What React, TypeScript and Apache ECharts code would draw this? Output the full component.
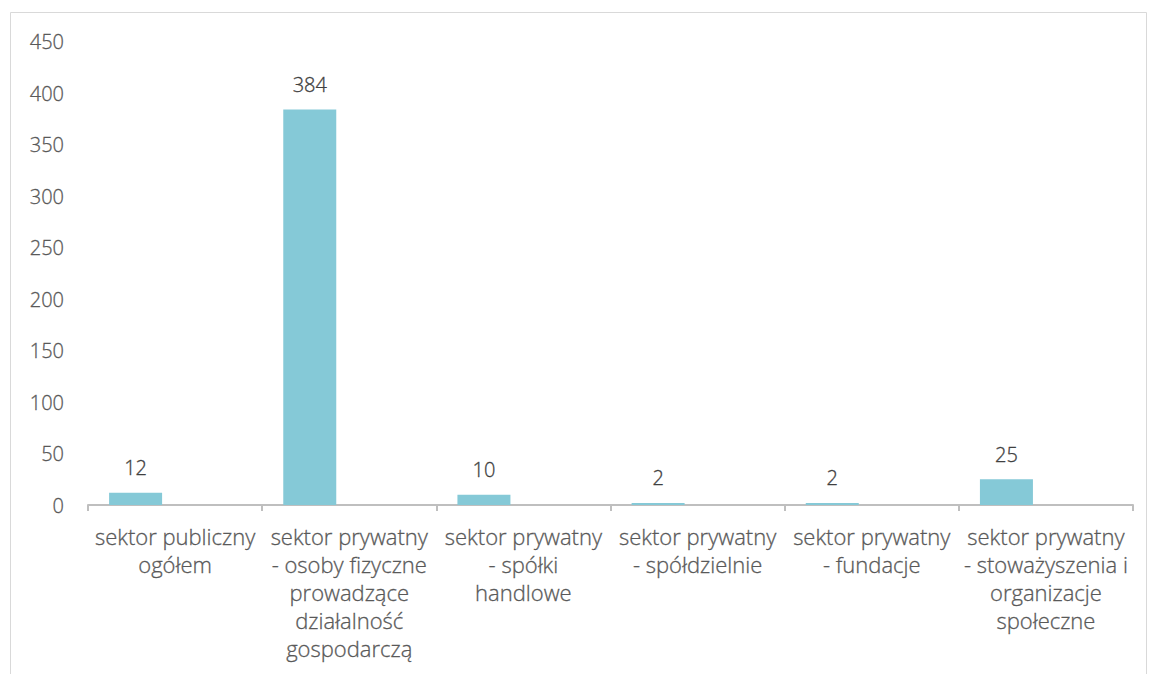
import React, { useEffect, useRef } from "react";
import * as echarts from "echarts";

const categories = [
  "sektor publiczny\nogółem",
  "sektor prywatny\n- osoby fizyczne\nprowadzące\ndziałalność\ngospodarczą",
  "sektor prywatny\n- spółki\nhandlowe",
  "sektor prywatny\n- spółdzielnie",
  "sektor prywatny\n- fundacje",
  "sektor prywatny\n- stoważyszenia i\norganizacje\nspołeczne",
];
const values = [12, 384, 10, 2, 2, 25];
const emptySeries: (number | null)[] = [null, null, null, null, null, null];
const yTicks = { min: 0, max: 450, interval: 50 };

export default function App() {
  const ref = useRef<HTMLDivElement>(null);
  useEffect(() => {
    document.body.style.margin = "0";
    const chart = echarts.init(ref.current!, null, { renderer: "svg" });
    const font = "'Open Sans', sans-serif";
    chart.setOption({
      animation: false,
      backgroundColor: "#ffffff",
      textStyle: { fontFamily: font },
      graphic: [
        {
          type: "rect",
          shape: { x: 10.5, y: 12.5, width: 1136, height: 700 },
          style: { fill: "none", stroke: "#d9d9d9", lineWidth: 1 },
          silent: true,
        },
      ],
      grid: { left: 88, right: 17, top: 41.5, bottom: 169 },
      xAxis: {
        type: "category",
        data: categories,
        boundaryGap: true,
        axisLine: { show: true, lineStyle: { color: "#bfbfbf", width: 2 } },
        axisTick: { show: true, length: 6, alignWithLabel: false, lineStyle: { color: "#bfbfbf", width: 2 } },
        axisLabel: {
          interval: 0,
          color: "#595959",
          fontSize: 22,
          fontWeight: 300,
          lineHeight: 28,
          margin: 17,
          fontFamily: font,
          textBorderColor: "#595959",
          textBorderWidth: 0.3,
        },
      },
      yAxis: {
        type: "value",
        min: yTicks.min,
        max: yTicks.max,
        interval: yTicks.interval,
        axisLine: { show: false },
        axisTick: { show: false },
        splitLine: { show: false },
        axisLabel: {
          color: "#595959",
          fontSize: 20,
          fontWeight: 300,
          margin: 24,
          fontFamily: font,
          textBorderColor: "#595959",
          textBorderWidth: 0.3,
        },
      },
      series: [
        {
          type: "bar",
          data: values,
          barWidth: 53,
          barGap: "49%",
          itemStyle: { color: "#85c9d7" },
          label: {
            show: true,
            position: "top",
            distance: 15,
            color: "#404040",
            fontSize: 20,
            fontWeight: 300,
            fontFamily: font,
            textBorderColor: "#404040",
            textBorderWidth: 0.3,
          },
        },
        {
          type: "bar",
          data: emptySeries,
          barWidth: 53,
          itemStyle: { color: "#85c9d7" },
        },
      ],
    });
    return () => chart.dispose();
  }, []);
  return <div ref={ref} style={{ width: 1150, height: 674 }} />;
}
